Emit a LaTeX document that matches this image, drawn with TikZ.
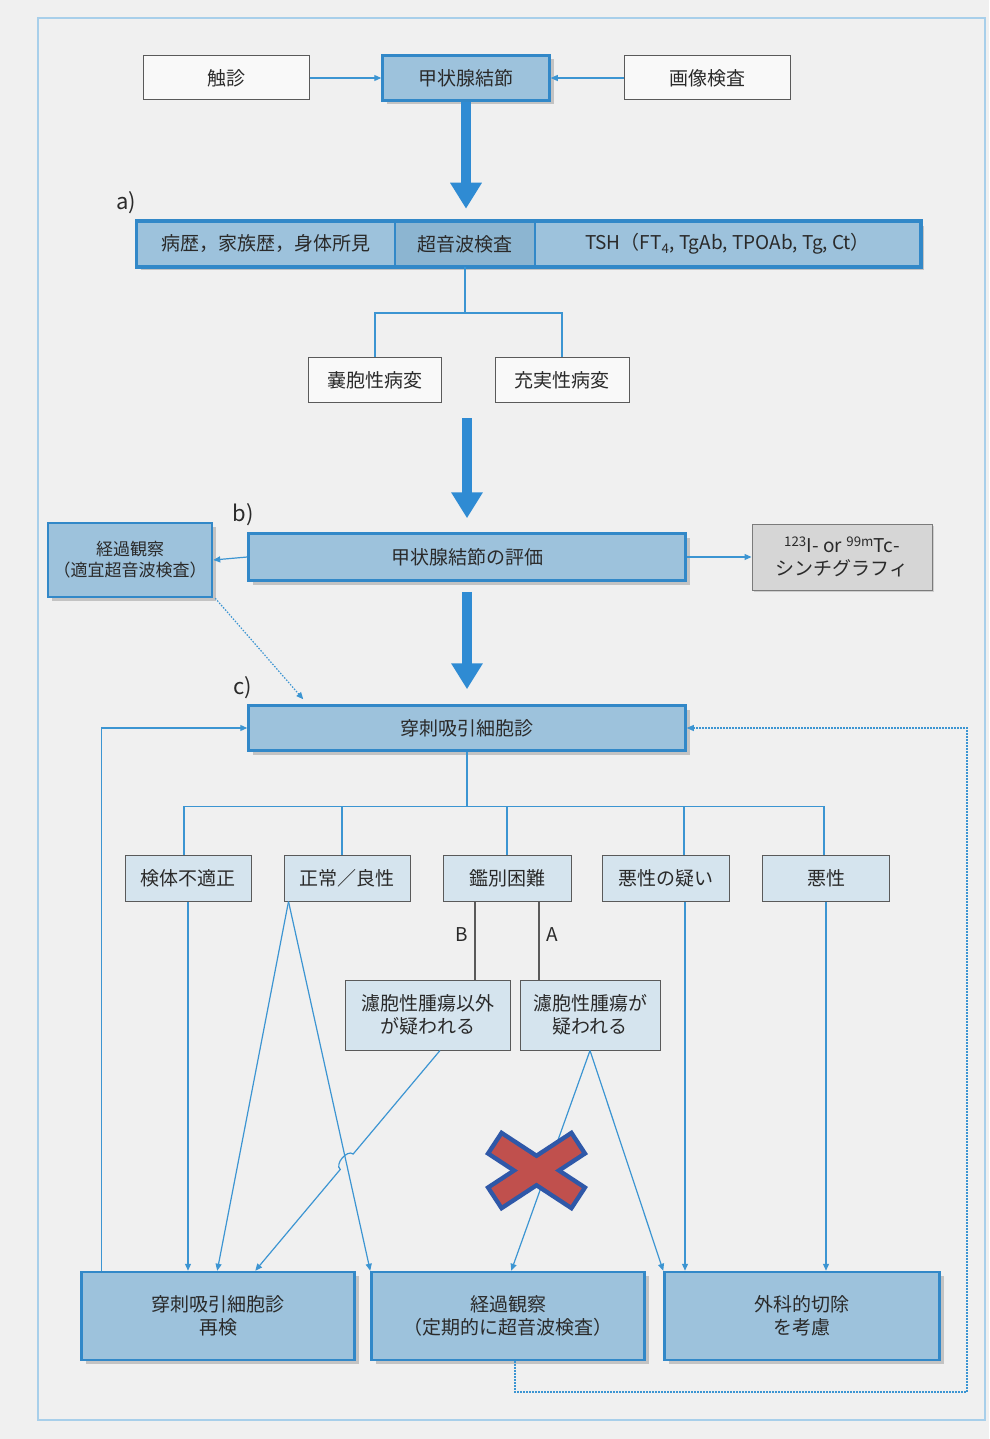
\documentclass[tikz,border=0pt]{standalone}
\usepackage{fontspec}
\setmainfont{Noto Sans CJK JP}
\usetikzlibrary{arrows.meta,shadows,calc}
\definecolor{bgc}{HTML}{F0F0F0}
\definecolor{framec}{HTML}{A8CFEA}
\definecolor{mainfill}{HTML}{9DC2DC}
\definecolor{mainborder}{HTML}{3288C8}
\definecolor{usfill}{HTML}{8CB5D1}
\definecolor{lightfill}{HTML}{D5E4EE}
\definecolor{boxline}{HTML}{5A5A5A}
\definecolor{connc}{HTML}{3C95D2}
\definecolor{thickc}{HTML}{2F8BD3}
\definecolor{txt}{HTML}{2A2A2A}
\definecolor{scfill}{HTML}{D6D6D6}
\definecolor{xred}{HTML}{C0504D}
\definecolor{xblue}{HTML}{2F58A8}
\begin{document}
\begin{tikzpicture}[x=1pt,y=-1pt,
  font=\fontsize{19}{23}\selectfont, text=txt,
  mainbox/.style={draw=mainborder, line width=2.5pt, fill=mainfill,
    drop shadow={shadow xshift=4pt, shadow yshift=-4pt, opacity=0.4},
    align=center, inner sep=0pt},
  subbox/.style={draw=mainborder, line width=1.5pt, fill=mainfill, inner sep=0pt},
  whitebox/.style={draw=boxline, line width=1pt, fill=white!60!bgc, inner sep=0pt, align=center},
  lightbox/.style={draw=boxline, line width=1pt, fill=lightfill, inner sep=0pt, align=center},
  greybox/.style={draw=boxline!80, line width=1pt, fill=scfill, inner sep=0pt, align=center,
    drop shadow={shadow xshift=2pt, shadow yshift=-2pt, opacity=0.3}},
  connline/.style={draw=connc, line width=1.2pt},
  greyline/.style={draw=boxline, line width=1.2pt},
  tip/.style={-{Triangle[width=6pt,length=7pt]}},
  dotconn/.style={draw=connc, line width=1.2pt, dash pattern=on 1.5pt off 1.5pt},
  thickarrow/.style={draw=thickc, line width=10pt, -{Triangle[width=30pt,length=26pt]}},
  steplabel/.style={font=\fontsize{22}{24}\selectfont, text=txt}
]
\useasboundingbox (0,0) rectangle (989,1439);
\fill[bgc] (0,0) rectangle (989,1439);
\draw[framec, line width=2pt] (38,18) rectangle (985,1420);

% top row
\node[whitebox, minimum width=166pt, minimum height=44pt] (palp) at (226,78) {触診};
\node[mainbox, minimum width=167pt, minimum height=45pt] (nod) at (466,78) {甲状腺結節};
\node[whitebox, minimum width=166pt, minimum height=44pt] (img) at (707,78) {画像検査};
\draw[connline, tip] (palp.east) -- (nod.west);
\draw[connline, tip] (img.west) -- (nod.east);

% row a
\node[steplabel] (la) at (126,203) {a)};
\node[mainbox, minimum width=783pt, minimum height=44pt] (rowa) at (528.5,244) {};
\node[subbox, minimum width=258pt, minimum height=44pt] (hist) at (266,244) {病歴，家族歴，身体所見};
\node[subbox, fill=usfill, minimum width=140pt, minimum height=44pt] (us) at (465,244) {超音波検査};
\node[subbox, minimum width=385pt, minimum height=44pt] (tsh) at (727.5,244) {TSH（FT\textsubscript{4}, TgAb, TPOAb, Tg, Ct）};
\draw[mainborder, line width=2.5pt] (rowa.north west) rectangle (rowa.south east);
\draw[thickarrow, shorten >=12pt] (nod.south) -- (nod.south |- rowa.north);

% cyst / solid
\node[whitebox, minimum width=133pt, minimum height=45pt] (cyst) at (375,380) {嚢胞性病変};
\node[whitebox, minimum width=134pt, minimum height=45pt] (solid) at (562,380) {充実性病変};
\draw[connline] (us.south) -- ($(us.south)+(0,47)$);
\draw[connline] (cyst.north) -- ++(0,-44) -| (solid.north);

% row b
\node[steplabel] (lb) at (243,515) {b)};
\node[mainbox, minimum width=437pt, minimum height=47pt] (eval) at (467,557) {甲状腺結節の評価};
\node[mainbox, minimum width=164pt, minimum height=74pt, font=\fontsize{17}{21}\selectfont] (obs1) at (130,560) {経過観察\\（適宜超音波検査）};
\node[greybox, minimum width=180pt, minimum height=66pt] (scint) at (842,557) {\textsuperscript{123}I- or \textsuperscript{99m}Tc-\\シンチグラフィ};
\coordinate (t2) at (467,418);
\draw[thickarrow, shorten >=14pt] (t2) -- (eval.north);
\draw[connline, tip] (eval.west) -- (obs1.east);
\draw[connline, tip] (eval.east) -- (scint.west);

% row c
\node[steplabel] (lc) at (243,688) {c)};
\node[mainbox, minimum width=437pt, minimum height=45pt] (fna) at (467,728) {穿刺吸引細胞診};
\draw[thickarrow, shorten <=10pt, shorten >=15pt] (eval.south) -- (fna.north);
\draw[dotconn, tip] ($(obs1.south east)+(2,0)$) -- ($(fna.north west)+(56,-5)$);

% categories
\node[lightbox, minimum width=126pt, minimum height=46pt] (c1) at (188,878) {検体不適正};
\node[lightbox, minimum width=126pt, minimum height=46pt] (c2) at (347,878) {正常／良性};
\node[lightbox, minimum width=128pt, minimum height=46pt] (c3) at (507,878) {鑑別困難};
\node[lightbox, minimum width=127pt, minimum height=46pt] (c4) at (666,878) {悪性の疑い};
\node[lightbox, minimum width=127pt, minimum height=46pt] (c5) at (826,878) {悪性};
\coordinate (bar) at ($(fna.south)+(0,55)$);
\draw[connline] (fna.south) -- (bar);
\coordinate (c1t) at ($(c1.north)+(-4,0)$);
\coordinate (c2t) at ($(c2.north)+(-5,0)$);
\coordinate (c4t) at ($(c4.north)+(18,0)$);
\coordinate (c5t) at ($(c5.north)+(-2,0)$);
\draw[connline] (c1t) -- (c1t |- bar) -- (c5t |- bar) -- (c5t);
\draw[connline] (c2t) -- (c2t |- bar);
\draw[connline] (c3.north) -- (c3.north |- bar);
\draw[connline] (c4t) -- (c4t |- bar);

% follicular
\node[lightbox, minimum width=165pt, minimum height=70pt] (fB) at (428,1015) {濾胞性腫瘍以外\\が疑われる};
\node[lightbox, minimum width=140pt, minimum height=70pt] (fA) at (590,1015) {濾胞性腫瘍が\\疑われる};
\coordinate (bL) at ($(c3.south)+(-32,0)$);
\coordinate (bR) at ($(c3.south)+(32,0)$);
\draw[greyline] (bL) -- (bL |- fB.north);
\draw[greyline] (bR) -- (bR |- fA.north);
\node (lblB) at (462,935) {B};
\node (lblA) at (552,935) {A};

% bottom boxes
\node[mainbox, minimum width=273pt, minimum height=88pt] (retest) at (218,1316) {穿刺吸引細胞診\\再検};
\node[mainbox, minimum width=273pt, minimum height=88pt] (follow) at (508,1316) {経過観察\\（定期的に超音波検査）};
\node[mainbox, minimum width=275pt, minimum height=88pt] (surg) at (802,1316) {外科的切除\\を考慮};

% arrows to bottom
\coordinate (c2b) at ($(c2.south west)+(5,0)$);
\coordinate (c4b) at ($(c4.south)+(19,0)$);
\draw[connline, tip] (c1.south) -- (c1.south |- retest.north);
\draw[connline, tip] (c2b) -- ($(retest.north west)+(137,0)$);
\draw[connline, tip] (c2b) -- (follow.north west);
\coordinate (fBb) at ($(fB.south)+(12,0)$);
\coordinate (rt3) at ($(retest.north west)+(175,0)$);
\coordinate (h1) at ($(fBb)!0.47!(rt3)$);
\coordinate (h2) at ($(fBb)!0.54!(rt3)$);
\draw[connline, tip] (fBb) -- (h1) .. controls +(-6,-5) and +(-6,-5) .. (h2) -- (rt3);
\draw[connline, tip] (fA.south) -- ($(follow.north west)+(141,0)$);
\draw[connline, tip] (fA.south) -- (surg.north west);
\draw[connline, tip] (c4b) -- (c4b |- surg.north);
\draw[connline, tip] (c5.south) -- (c5.south |- surg.north);

% loops
\draw[connline, tip] ($(retest.north west)+(21,0)$) |- (fna.west);
\coordinate (rc) at (967,1392);
\draw[dotconn, tip] ($(follow.south)+(7,0)$) |- (rc) |- (fna.east);

% red cross
\draw[xblue, line width=29pt] (493,1142) -- (580,1199);
\draw[xblue, line width=29pt] (580,1142) -- (493,1199);
\draw[xred, line width=20pt, shorten <=4.5pt, shorten >=4.5pt] (493,1142) -- (580,1199);
\draw[xred, line width=20pt, shorten <=4.5pt, shorten >=4.5pt] (580,1142) -- (493,1199);
\end{tikzpicture}
\end{document}
